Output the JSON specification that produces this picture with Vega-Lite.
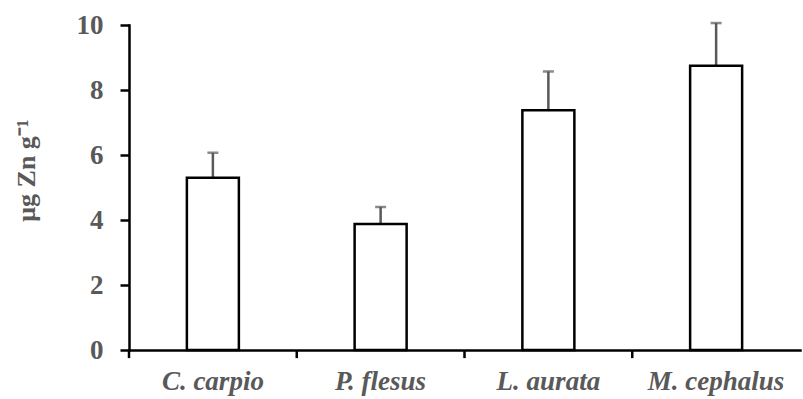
{
  "$schema": "https://vega.github.io/schema/vega-lite/v6.json",
  "autosize": {"type": "none"},
  "width": 671,
  "height": 325,
  "padding": {"left": 129, "top": 25, "right": 3, "bottom": 49},
  "background": "white",
  "config": {
    "view": {"stroke": null},
    "axis": {"grid": false, "domainColor": "black", "tickColor": "black", "domainWidth": 2.5, "tickWidth": 2.5, "labelFont": "Liberation Serif", "labelFontWeight": "bold", "labelColor": "#595959", "titleFont": "Liberation Serif", "titleFontWeight": "bold", "titleColor": "#595959"}
  },
  "data": {
    "values": [
      {"species": "C. carpio", "mean": 5.3, "upper": 6.07},
      {"species": "P. flesus", "mean": 3.88, "upper": 4.4},
      {"species": "L. aurata", "mean": 7.38, "upper": 8.57},
      {"species": "M. cephalus", "mean": 8.75, "upper": 10.06}
    ]
  },
  "encoding": {
    "x": {
      "field": "species", "type": "nominal", "sort": null,
      "scale": {"paddingInner": 0, "paddingOuter": 0},
      "axis": {"title": null, "labelAngle": 0, "labelFontSize": 27, "labelFontStyle": "italic", "ticks": false, "labelPadding": 18, "domainCap": "square"}
    }
  },
  "layer": [
    {
      "mark": {"type": "rule", "color": "black", "strokeWidth": 2.5},
      "encoding": {
        "x": {"field": "species", "type": "nominal", "sort": null, "bandPosition": 0},
        "y": {"datum": 0, "type": "quantitative"},
        "y2": {"datum": -0.25}
      }
    },
    {
      "mark": {"type": "rule", "color": "#595959", "strokeWidth": 2.5},
      "encoding": {
        "y": {"field": "mean", "type": "quantitative"},
        "y2": {"field": "upper"}
      }
    },
    {
      "mark": {"type": "tick", "color": "#595959", "thickness": 2.5, "size": 11},
      "encoding": {
        "y": {"field": "upper", "type": "quantitative"}
      }
    },
    {
      "mark": {"type": "bar", "fill": "white", "stroke": "black", "strokeWidth": 2.5, "width": {"band": 0.31}},
      "encoding": {
        "y": {
          "field": "mean", "type": "quantitative",
          "scale": {"domain": [0, 10], "nice": false},
          "axis": {"title": "μg Zn g⁻¹", "values": [0, 2, 4, 6, 8, 10], "labelFontSize": 27, "tickSize": 9, "labelPadding": 17, "titleFontSize": 26, "titleX": -90, "titleY": 145, "domainCap": "square"}
        }
      }
    }
  ]
}
